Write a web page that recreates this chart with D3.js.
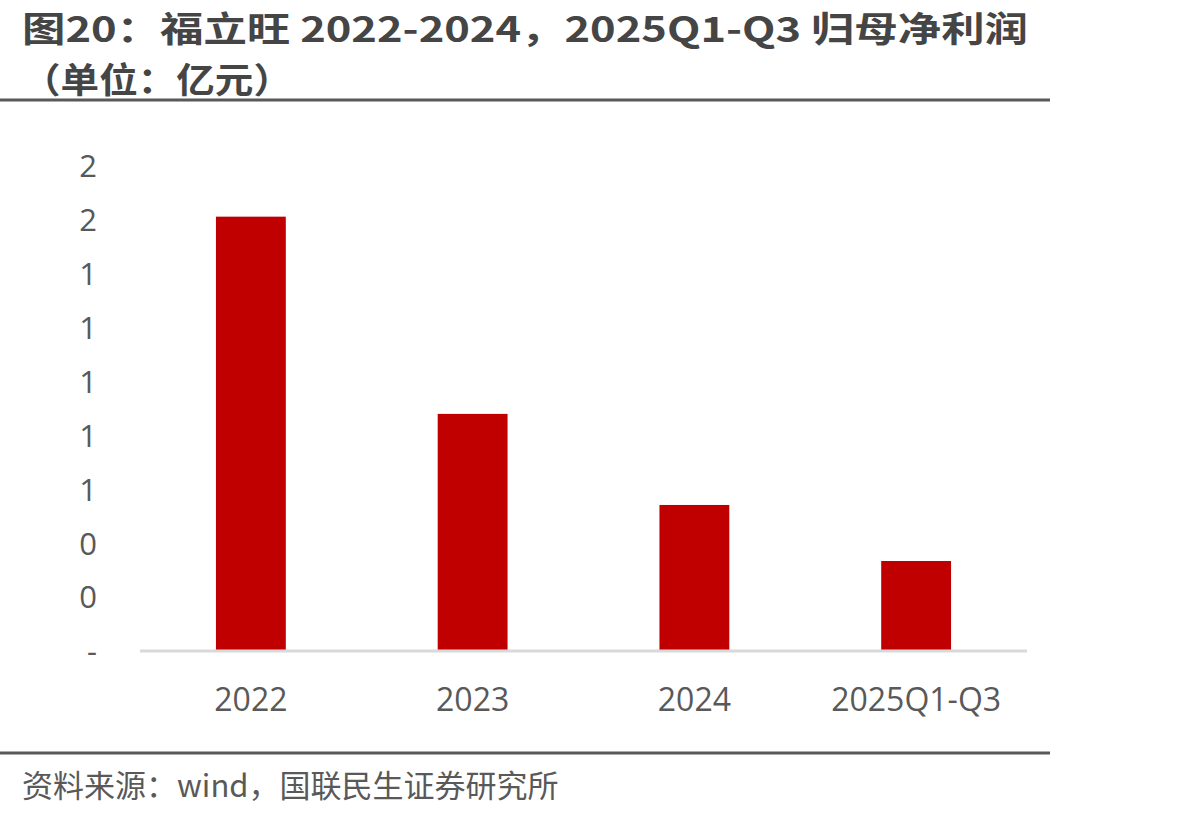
<!DOCTYPE html>
<html>
<head>
<meta charset="utf-8">
<script src="https://cdn.jsdelivr.net/npm/d3@7"></script>
<style>
  body { margin: 0; background: #fff; }
  svg { display: block; }
  text { font-family: "Open Sans", "Noto Sans CJK SC", sans-serif; }
</style>
</head>
<body>
<svg id="chart" width="1199" height="815"></svg>
<script>
// data
var categories = ["2022", "2023", "2024", "2025Q1-Q3"];
var profit = [1.612, 0.880, 0.542, 0.334];
var yTicks = [0, 0.2, 0.4, 0.6, 0.8, 1.0, 1.2, 1.4, 1.6, 1.8];
var yTickLabels = ["-", "0", "0", "1", "1", "1", "1", "1", "2", "2"];

var titleLine1 = "图20：福立旺 2022-2024，2025Q1-Q3 归母净利润";
var titleLine2 = "（单位：亿元）";
var sourceText = "资料来源：wind，国联民生证券研究所";

var svg = d3.select("#chart");

var x = d3.scaleBand()
    .domain(categories)
    .range([140, 1027])
    .paddingInner(0.685)
    .paddingOuter(0.3425);

var y = d3.scaleLinear()
    .domain([0, 1.8])
    .range([651, 166]);

// title
svg.append("text")
    .attr("x", 22).attr("y", 42)
    .attr("fill", "#454545")
    .attr("font-size", 35)
    .attr("font-weight", "bold")
    .attr("textLength", 1006)
    .attr("lengthAdjust", "spacingAndGlyphs")
    .style("font-family", "'Noto Sans CJK SC', sans-serif")
    .text(titleLine1);

svg.append("text")
    .attr("x", 22).attr("y", 93)
    .attr("fill", "#454545")
    .attr("font-size", 35)
    .attr("font-weight", "bold")
    .attr("textLength", 270)
    .attr("lengthAdjust", "spacingAndGlyphs")
    .style("font-family", "'Noto Sans CJK SC', sans-serif")
    .text(titleLine2);

// rules
svg.append("rect").attr("x", 0).attr("y", 98.5).attr("width", 1050).attr("height", 3).attr("fill", "#595959");
svg.append("rect").attr("x", 0).attr("y", 751.5).attr("width", 1050).attr("height", 3).attr("fill", "#595959");

// bars
svg.append("g").selectAll("rect")
    .data(profit)
    .join("rect")
    .attr("x", function (d, i) { return x(categories[i]); })
    .attr("y", function (d) { return y(d); })
    .attr("width", x.bandwidth())
    .attr("height", function (d) { return y(0) - y(d); })
    .attr("fill", "#c00000");

// x axis line
svg.append("line")
    .attr("x1", 140).attr("x2", 1027)
    .attr("y1", y(0)).attr("y2", y(0))
    .attr("stroke", "#d9d9d9").attr("stroke-width", 3);

// x labels
var xAxis = d3.axisBottom(x).tickSize(0).tickPadding(0);
var gx = svg.append("g").attr("transform", "translate(0," + 711 + ")").call(xAxis);
gx.select(".domain").remove();
gx.selectAll("text")
    .attr("dy", 0)
    .attr("fill", "#595959")
    .attr("font-size", 32)
    .style("font-family", "'Open Sans', sans-serif");

// y labels
var yAxis = d3.axisLeft(y)
    .tickValues(yTicks)
    .tickSize(0)
    .tickPadding(0)
    .tickFormat(function (d, i) { return yTickLabels[i]; });
var gy = svg.append("g").attr("transform", "translate(97,0)").call(yAxis);
gy.select(".domain").remove();
gy.selectAll("text")
    .attr("dy", "0.35em")
    .attr("fill", "#595959")
    .attr("font-size", 31)
    .style("font-family", "'Open Sans', sans-serif");

// source
svg.append("text")
    .attr("x", 22).attr("y", 797)
    .attr("fill", "#595959")
    .attr("font-size", 31)
    .style("font-family", "'Noto Sans CJK SC', sans-serif")
    .text(sourceText);
</script>
</body>
</html>
